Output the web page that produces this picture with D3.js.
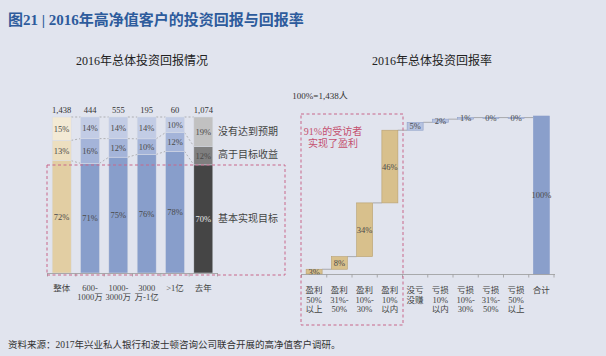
<!DOCTYPE html>
<html><head><meta charset="utf-8">
<script src="https://cdn.jsdelivr.net/npm/d3@7"></script>
<style>
html,body{margin:0;padding:0;background:#e1e4ee;}
svg{display:block;}
text{font-family:"Liberation Serif","Noto Sans CJK SC",serif;}
</style></head>
<body><svg id="c" width="606" height="356"></svg>
<script>
// ---------- data ----------
const leftCats = ["整体","600-1000万","1000-3000万","3000万-1亿",">1亿","去年"];
const leftCatLines = [["整体"],["600-","1000万"],["1000-","3000万"],["3000","万-1亿"],[">1亿"],["去年"]];
const leftTotals = ["1,438","444","555","195","60","1,074"];
const achieved = [72,71,75,76,78,70];   // 基本实现目标
const exceeded = [13,16,12,10,12,12];   // 高于目标收益
const notMet   = [15,14,14,14,10,19];   // 没有达到预期
const legendNames = ["基本实现目标","高于目标收益","没有达到预期"];

const wfCats = ["盈利50%以上","盈利31%-50%","盈利10%-30%","盈利10%以内","没亏没赚","亏损10%以内","亏损10%-30%","亏损31%-50%","亏损50%以上","合计"];
const wfCatLines = [["盈利","50%","以上"],["盈利","31%-","50%"],["盈利","10%-","30%"],["盈利","10%","以内"],["没亏","没赚"],["亏损","10%","以内"],["亏损","10%-","30%"],["亏损","31%-","50%"],["亏损","50%","以上"],["合计"]];
const wfValues = [3,8,34,46,5,2,1,0,0];
const wfTotal = 100;

// ---------- setup ----------
const svg = d3.select("#c");
svg.append("rect").attr("width",606).attr("height",356).attr("fill","#e1e4ee");

svg.append("text").attr("x",8).attr("y",25).attr("font-size",15).attr("font-weight","bold")
  .attr("fill","#2d5b9c").text("图21 | 2016年高净值客户的投资回报与回报率");

svg.append("text").attr("x",142).attr("y",65).attr("text-anchor","middle").attr("font-size",12)
  .attr("fill","#222").text("2016年总体投资回报情况");
svg.append("text").attr("x",432).attr("y",65).attr("text-anchor","middle").attr("font-size",12)
  .attr("fill","#222").text("2016年总体投资回报率");

svg.append("text").attr("x",8).attr("y",348).attr("font-size",9.5).attr("fill","#333")
  .text("资料来源：2017年兴业私人银行和波士顿咨询公司联合开展的高净值客户调研。");

// ---------- left stacked chart ----------
const xL = d3.scaleBand().domain(leftCats).range([47.5,217.5]).paddingInner(0.33).paddingOuter(0.165);
const yL = d3.scaleLinear().domain([0,1]).range([273,117]);
const rows = leftCats.map((c,i)=>({cat:c, a:achieved[i], e:exceeded[i], n:notMet[i]}));
const keys = ["a","e","n"];
const series = d3.stack().keys(keys).offset(d3.stackOffsetExpand)(rows);
const raw = {a:achieved, e:exceeded, n:notMet};
const palette = {
  tan:  ["#e2cea3","#ecdfc0","#f3ead5"],
  blue: ["#889ecb","#a4b4d9","#c2cce5"],
  dark: ["#454545","#7f7f7f","#c1c1c1"]
};
function palFor(i){ return i===0?palette.tan:(i===5?palette.dark:palette.blue); }

const gL = svg.append("g");
// dashed connectors
series.forEach((s,k)=>{
  for(let i=0;i<leftCats.length-1;i++){
    gL.append("line")
      .attr("x1",xL(leftCats[i])+xL.bandwidth()).attr("y1",yL(s[i][1]))
      .attr("x2",xL(leftCats[i+1])).attr("y2",yL(s[i+1][1]))
      .attr("stroke","#9a9a9a").attr("stroke-width",0.7).attr("stroke-dasharray","2,2");
  }
});
series.forEach((s,k)=>{
  gL.selectAll(null).data(s).enter().append("rect")
    .attr("x",(d,i)=>xL(leftCats[i])).attr("width",xL.bandwidth())
    .attr("y",d=>yL(d[1])).attr("height",d=>yL(d[0])-yL(d[1]))
    .attr("fill",(d,i)=>palFor(i)[k]).attr("stroke","#d8dbe6").attr("stroke-width",0.5);
  gL.selectAll(null).data(s).enter().append("text")
    .attr("x",(d,i)=>xL(leftCats[i])+xL.bandwidth()/2)
    .attr("y",d=>(yL(d[0])+yL(d[1]))/2+3)
    .attr("text-anchor","middle").attr("font-size",8.5)
    .attr("fill",(d,i)=> (i===5&&k===0)?"#e8e8e8":"#4a4a4a")
    .text((d,i)=>raw[keys[k]][i]+"%");
});
gL.selectAll(null).data(leftTotals).enter().append("text")
  .attr("x",(d,i)=>xL(leftCats[i])+xL.bandwidth()/2).attr("y",113)
  .attr("text-anchor","middle").attr("font-size",8.5).attr("fill","#333").text(d=>d);
// axis
gL.append("line").attr("x1",47).attr("x2",218).attr("y1",273.5).attr("y2",273.5).attr("stroke","#999").attr("stroke-width",0.8);
d3.range(leftCats.length+1).forEach(i=>{
  const x = 47.5 + i*xL.step();
  gL.append("line").attr("x1",x).attr("x2",x).attr("y1",273.5).attr("y2",276.5).attr("stroke","#999").attr("stroke-width",0.8);
});
leftCatLines.forEach((lines,i)=>{
  lines.forEach((t,j)=>{
    gL.append("text").attr("x",xL(leftCats[i])+xL.bandwidth()/2).attr("y",291+j*9)
      .attr("text-anchor","middle").attr("font-size",8.5).attr("fill","#444").text(t);
  });
});
// legend labels
const lastSeries = series.map(s=>s[s.length-1]);
const legendY = [222,158,135];
legendNames.forEach((n,k)=>{
  gL.append("text").attr("x",218).attr("y",legendY[k]).attr("font-size",10).attr("fill","#444").text(n);
});
// red dashed box left
svg.append("rect").attr("x",47).attr("y",165).attr("width",238).attr("height",110)
  .attr("fill","none").attr("stroke","#c8668a").attr("stroke-width",1).attr("stroke-dasharray","3,2.5");

// ---------- right waterfall ----------
const xR = d3.scaleBand().domain(wfCats).range([301.5,554]).paddingInner(0.366).paddingOuter(0.183);
const yR = d3.scaleLinear().domain([0,100]).range([274,116]);
const cum = Array.from(d3.cumsum(wfValues));
const wf = wfCats.map((c,i)=>{
  if(i===wfValues.length) return {cat:c, v:wfTotal, y0:0, y1:wfTotal, type:"total"};
  return {cat:c, v:wfValues[i], y0:i===0?0:cum[i-1], y1:cum[i], type: i<4?"gain":"loss"};
});
const gR = svg.append("g");
svg.append("text").attr("x",320).attr("y",99).attr("text-anchor","middle").attr("font-size",9).attr("fill","#333").text("100%=1,438人");
// connectors
for(let i=0;i<wf.length-1;i++){
  const lvl = wf[i].y1;
  gR.append("line").attr("x1",xR(wf[i].cat)+xR.bandwidth()).attr("x2",xR(wf[i+1].cat))
    .attr("y1",yR(lvl)).attr("y2",yR(lvl)).attr("stroke","#8f8f8f").attr("stroke-width",0.7);
}
const fillW = {gain:"#d8c08c", loss:"#b7c3e0", total:"#8a9fcb"};
const strokeW = {gain:"#b8a070", loss:"#8fa0c8", total:"#8a9fcb"};
gR.selectAll(null).data(wf).enter().append("rect")
  .attr("x",d=>xR(d.cat)).attr("width",xR.bandwidth())
  .attr("y",d=>yR(d.y1)).attr("height",d=>Math.max(0.8,yR(d.y0)-yR(d.y1)))
  .attr("fill",d=>fillW[d.type]).attr("stroke",d=>strokeW[d.type]).attr("stroke-width",0.6);
gR.selectAll(null).data(wf).enter().append("text")
  .attr("x",d=>xR(d.cat)+xR.bandwidth()/2)
  .attr("y",d=>(yR(d.y0)+yR(d.y1))/2+3)
  .attr("text-anchor","middle").attr("font-size",8.5).attr("fill","#4a4a4a")
  .text(d=>d.v+"%");
// axis
gR.append("line").attr("x1",301).attr("x2",555).attr("y1",274.5).attr("y2",274.5).attr("stroke","#999").attr("stroke-width",0.8);
d3.range(wfCats.length+1).forEach(i=>{
  const x = 301.5 + i*xR.step();
  gR.append("line").attr("x1",x).attr("x2",x).attr("y1",274.5).attr("y2",277.5).attr("stroke","#999").attr("stroke-width",0.8);
});
wfCatLines.forEach((lines,i)=>{
  lines.forEach((t,j)=>{
    gR.append("text").attr("x",xR(wfCats[i])+xR.bandwidth()/2).attr("y",293+j*9.5)
      .attr("text-anchor","middle").attr("font-size",8.5).attr("fill","#444").text(t);
  });
});
// red dashed box right
svg.append("rect").attr("x",301).attr("y",114).attr("width",102).attr("height",211)
  .attr("fill","none").attr("stroke","#c8668a").attr("stroke-width",1).attr("stroke-dasharray","3,2.5");
svg.append("text").attr("x",333).attr("y",135).attr("text-anchor","middle").attr("font-size",10).attr("fill","#c4506e").text("91%的受访者");
svg.append("text").attr("x",333).attr("y",147).attr("text-anchor","middle").attr("font-size",10).attr("fill","#c4506e").text("实现了盈利");
</script></body></html>
